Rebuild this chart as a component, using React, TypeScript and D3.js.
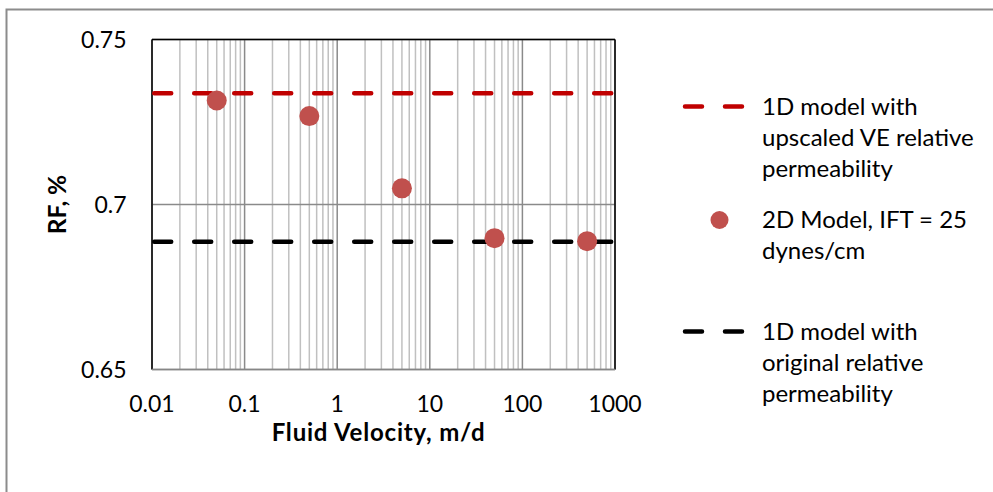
import React from 'react';
import * as d3 from 'd3';

// ---- data ----
const velocities = [0.05, 0.5, 5, 50, 500];
const rf2DModel = [0.7315, 0.7268, 0.7049, 0.6898, 0.6889];
const rfUpscaledVE = 0.7337;
const rfOriginal = 0.6887;
const xTicks = [0.01, 0.1, 1, 10, 100, 1000];
const xTickLabels = ['0.01', '0.1', '1', '10', '100', '1000'];
const yTicks = [0.65, 0.7, 0.75];
const yTickLabels = ['0.65', '0.7', '0.75'];
const xTitle = 'Fluid Velocity, m/d';
const yTitle = 'RF, %';
const legendUpscaled = ['1D model with', 'upscaled VE relative', 'permeability'];
const legend2D = ['2D Model, IFT = 25', 'dynes/cm'];
const legendOriginal = ['1D model with', 'original relative', 'permeability'];

const W = 993;
const H = 492;
const M = { left: 152, right: 615, top: 39.5, bottom: 369.5 };
const FONT = 'Lato, "Open Sans", sans-serif';

export default function App() {
  const x = d3.scaleLog().domain([xTicks[0], xTicks[xTicks.length - 1]]).range([M.left, M.right]);
  const y = d3.scaleLinear().domain([yTicks[0], yTicks[yTicks.length - 1]]).range([M.bottom, M.top]);

  const minor: number[] = [];
  for (let i = 0; i < xTicks.length - 1; i++) {
    for (let k = 2; k <= 9; k++) minor.push(xTicks[i] * k);
  }

  const line = d3
    .line<[number, number]>()
    .x((d) => x(d[0]))
    .y((d) => y(d[1]));
  const xd = x.domain();
  const redPath = line([
    [xd[0], rfUpscaledVE],
    [xd[1], rfUpscaledVE],
  ]) as string;
  const blackPath = line([
    [xd[0], rfOriginal],
    [xd[1], rfOriginal],
  ]) as string;

  const dash = '17 23';
  const lx = 762;
  const lh = 31;
  const lfs = 24;

  return (
    <svg width={W} height={H} style={{ display: 'block', position: 'absolute', left: 0, top: 0 }} fontFamily={FONT}>
      <rect x={0} y={0} width={W} height={H} fill="#fff" />
      <rect x={6.5} y={9.5} width={W + 20} height={H + 20} fill="none" stroke="#8c8c8c" strokeWidth={2} />

      {/* minor gridlines */}
      {minor.map((v, i) => (
        <line key={'m' + i} x1={x(v)} x2={x(v)} y1={M.top} y2={M.bottom} stroke="#c0c0c0" strokeWidth={1.5} />
      ))}
      {/* major gridlines */}
      {xTicks.map((v, i) => (
        <line key={'M' + i} x1={x(v)} x2={x(v)} y1={M.top} y2={M.bottom} stroke="#8a8a8a" strokeWidth={1.5} />
      ))}
      {yTicks.map((v, i) => (
        <line key={'y' + i} x1={M.left} x2={M.right} y1={y(v)} y2={y(v)} stroke="#8a8a8a" strokeWidth={1.5} />
      ))}

      {/* plot border */}
      <line x1={M.left} x2={M.right} y1={M.top} y2={M.top} stroke="#000" strokeWidth={1.5} />
      <line x1={M.left} x2={M.left} y1={M.top} y2={M.bottom} stroke="#000" strokeWidth={1.5} />
      <line x1={M.right} x2={M.right} y1={M.top} y2={M.bottom} stroke="#000" strokeWidth={1.5} />
      <line x1={M.left} x2={M.right} y1={M.bottom} y2={M.bottom} stroke="#868686" strokeWidth={1.5} />

      {/* series */}
      <path d={redPath} stroke="#c00000" strokeWidth={4.5} strokeDasharray={dash} strokeLinecap="round" fill="none" transform="translate(2.2,0)" />
      <path d={blackPath} stroke="#000" strokeWidth={4.5} strokeDasharray={dash} strokeLinecap="round" fill="none" transform="translate(2.2,0)" />
      {velocities.map((v, i) => (
        <circle key={'p' + i} cx={x(v)} cy={y(rf2DModel[i])} r={10} fill="#c0504d" />
      ))}

      {/* tick labels */}
      {xTicks.map((v, i) => (
        <text key={'xt' + i} x={x(v)} y={412} textAnchor="middle" fontSize={23} fill="#000">
          {xTickLabels[i]}
        </text>
      ))}
      {yTicks.map((v, i) => (
        <text key={'yt' + i} x={126.5} y={y(v) + 8.5} textAnchor="end" fontSize={23} fill="#000">
          {yTickLabels[i]}
        </text>
      ))}

      {/* axis titles */}
      <text x={378.5} y={441} textAnchor="middle" fontSize={24} fontWeight="bold" letterSpacing={0.8} fill="#000">
        {xTitle}
      </text>
      <text transform={`translate(66,${(M.top + M.bottom) / 2}) rotate(-90)`} textAnchor="middle" fontSize={24.5} fontWeight="bold" fill="#000">
        {yTitle}
      </text>

      {/* legend */}
      <line x1={685} x2={745} y1={106.5} y2={106.5} stroke="#c00000" strokeWidth={4.5} strokeDasharray={dash} strokeLinecap="round" />
      {legendUpscaled.map((t, i) => (
        <text key={'l1' + i} x={lx} y={115 + i * lh} fontSize={lfs} fill="#000">
          {t}
        </text>
      ))}
      <circle cx={719.5} cy={220} r={9} fill="#c0504d" />
      {legend2D.map((t, i) => (
        <text key={'l2' + i} x={lx} y={227.5 + i * lh} fontSize={lfs} fill="#000">
          {t}
        </text>
      ))}
      <line x1={685} x2={745} y1={331.5} y2={331.5} stroke="#000" strokeWidth={4.5} strokeDasharray={dash} strokeLinecap="round" />
      {legendOriginal.map((t, i) => (
        <text key={'l3' + i} x={lx} y={340 + i * lh} fontSize={lfs} fill="#000">
          {t}
        </text>
      ))}
    </svg>
  );
}
